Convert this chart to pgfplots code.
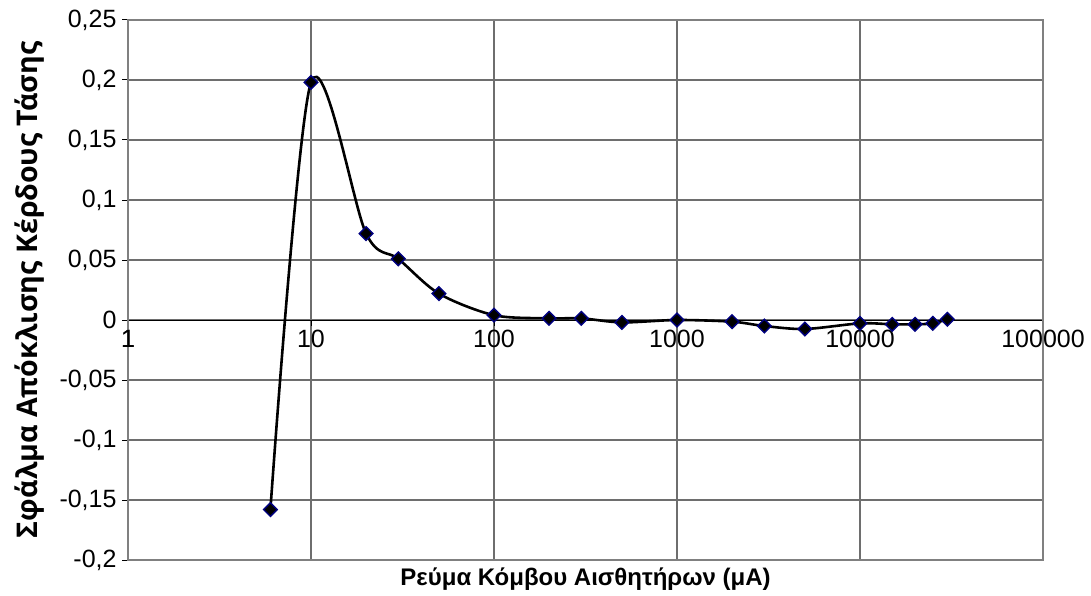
\documentclass[border=0pt]{standalone}
\usepackage{pgfplots}
\pgfplotsset{compat=1.18}
\usepackage{fontspec}
\setmainfont{Liberation Sans}
\newfontfamily\ylabfont{Open Sans}
\definecolor{gridgray}{RGB}{110,110,110}
\definecolor{framegray}{RGB}{128,128,128}
\definecolor{navy}{RGB}{0,0,128}
\begin{document}
\begin{tikzpicture}
\begin{axis}[
  scale only axis, width=915pt, height=540pt,
  xmode=log, xmin=1, xmax=100000, ymin=-0.2, ymax=0.25,
  axis x line=middle, axis y line=left,
  x axis line style={-, black, line width=1pt},
  y axis line style={-, black, line width=1pt},
  hide obscured x ticks=false,
  xtick={1,10,100,1000,10000,100000},
  xticklabels={1,10,100,1000,10000,100000},
  ytick={-0.2,-0.15,-0.1,-0.05,0,0.05,0.1,0.15,0.2,0.25},
  yticklabels={{-0,2},{-0,15},{-0,1},{-0,05},{0},{0,05},{0,1},{0,15},{0,2},{0,25}},
  xminorticks=false,
  tick align=outside, major tick length=6pt,
  tick style={black, line width=1pt},
  grid=major, grid style={gridgray, line width=1.2pt},
  tick label style={font=\fontsize{25}{28}\selectfont},
  xticklabel style={anchor=north, yshift=-1pt},
  yticklabel style={anchor=east, xshift=-2pt},
  xlabel={\bfseries Ρεύμα Κόμβου Αισθητήρων (μA)},
  ylabel={\ylabfont\bfseries Σφάλμα Απόκλισης Κέρδους Τάσης},
  xlabel style={at={(rel axis cs:0.5,0)}, anchor=center, yshift=-19pt, font=\fontsize{24}{27}\selectfont},
  ylabel style={at={(rel axis cs:0,0.5)}, anchor=center, rotate=0, yshift=98pt, xshift=0pt, font=\fontsize{28.5}{31}\selectfont},
  clip=false,
]
\draw[framegray, line width=1.5pt] (rel axis cs:0,0) rectangle (rel axis cs:1,1);
\addplot[black, line width=2.6pt, smooth, mark=square*, mark size=4.8pt,
  mark options={rotate=45, fill=black, draw=navy, line width=1.4pt}]
  coordinates {
  (6,-0.158) (10,0.198) (20,0.072) (30,0.051) (50,0.022) (100,0.004)
  (200,0.0014) (300,0.0014) (500,-0.002) (1000,0.0) (2000,-0.0014)
  (3000,-0.005) (5000,-0.0075) (10000,-0.0028) (15000,-0.0036)
  (20000,-0.0036) (25000,-0.0028) (30000,0.0006)
  };
\node[anchor=north, font=\fontsize{25}{28}\selectfont, inner sep=3.33pt] at (axis cs:1,0) [yshift=-7pt] {1};
\coordinate (O) at (rel axis cs:0,0);
\end{axis}
\pgfresetboundingbox
\path (O) ++(-128pt,-35pt) rectangle ++(1091pt,595pt);
\end{tikzpicture}
\end{document}
